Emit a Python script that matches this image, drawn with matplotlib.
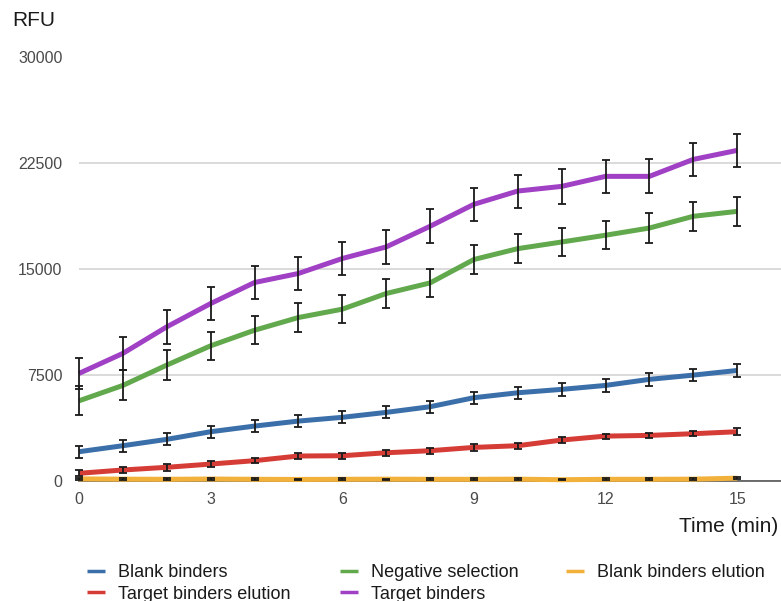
import matplotlib
matplotlib.use('Agg')
import matplotlib.pyplot as plt
import numpy as np

plt.rcParams['font.family'] = ['Liberation Sans', 'DejaVu Sans']

# time points (min)
time_min = np.arange(16)

# RFU readings per sample, with error bar half-widths
target_binders = [7620, 9040, 10920, 12570, 14060, 14700, 15760, 16580,
                  18040, 19600, 20540, 20870, 21580, 21580, 22780, 23420]
target_binders_err = [1100, 1170, 1200, 1200, 1170, 1200, 1200, 1230,
                      1200, 1170, 1170, 1240, 1150, 1210, 1180, 1180]

negative_selection = [5680, 6770, 8210, 9575, 10680, 11580, 12170, 13280,
                      14030, 15690, 16460, 16930, 17410, 17920, 18750, 19100]
negative_selection_err = [1020, 1060, 1050, 1000, 1000, 1000, 1000, 1000,
                          1000, 1000, 1010, 1010, 1000, 1040, 1030, 1010]

blank_binders = [2075, 2500, 2950, 3490, 3890, 4245, 4510, 4860,
                 5260, 5900, 6250, 6490, 6770, 7200, 7500, 7830]
blank_binders_err = [420, 420, 420, 430, 420, 420, 420, 420,
                     430, 430, 430, 440, 440, 440, 440, 440]

target_elution = [545, 780, 970, 1200, 1440, 1770, 1790, 2000,
                  2145, 2380, 2500, 2900, 3180, 3230, 3350, 3490]
target_elution_err = [220, 240, 230, 230, 200, 180, 220, 220,
                      200, 220, 220, 230, 180, 200, 180, 230]

blank_elution = [150, 130, 120, 140, 120, 110, 120, 130,
                 120, 120, 130, 90, 120, 120, 130, 200]
blank_elution_err = [90, 60, 60, 40, 60, 60, 60, 40,
                     60, 60, 60, 40, 60, 60, 60, 60]

series = [
    ('Blank binders', blank_binders, blank_binders_err, '#3b6fa9'),
    ('Target binders elution', target_elution, target_elution_err, '#d63c36'),
    ('Negative selection', negative_selection, negative_selection_err, '#62a84c'),
    ('Target binders', target_binders, target_binders_err, '#a040c4'),
    ('Blank binders elution', blank_elution, blank_elution_err, '#f2b13a'),
]

fig = plt.figure(figsize=(7.81, 6.01), dpi=100)
ax = fig.add_axes([79 / 781, 1 - 481 / 601, 1 - 79 / 781, (481 - 57.5) / 601])

handles = []
for label, vals, err, color in series:
    line, = ax.plot(time_min, vals, color=color, lw=3.6, label=label,
                    solid_capstyle='butt', zorder=3, clip_on=False)
    eb = ax.errorbar(time_min, vals, yerr=err, fmt='none', ecolor='#1a1a1a',
                     elinewidth=1.3, capsize=2.8, capthick=1.3, zorder=4)
    for art in eb.lines[1] + eb.lines[2]:
        art.set_clip_on(False)
    handles.append(line)

ax.set_xlim(0, 16)
ax.set_ylim(0, 30000)
ax.set_xticks([0, 3, 6, 9, 12, 15])
ax.set_yticks([0, 7500, 15000, 22500, 30000])
ax.yaxis.grid(True, color='#d4d4d4', lw=1.2)
ax.set_axisbelow(True)
for s in ['top', 'right', 'left']:
    ax.spines[s].set_visible(False)
ax.spines['bottom'].set_color('#555555')
ax.spines['bottom'].set_linewidth(1.2)
ax.spines['bottom'].set_zorder(1)
ax.tick_params(axis='both', length=0, labelsize=11.5, labelcolor='#4a4a4a')
ax.tick_params(axis='y', pad=12)
ax.tick_params(axis='x', pad=8)

fig.text(12 / 781, 1 - 11 / 601, 'RFU', fontsize=15, va='top', ha='left', color='#1a1a1a')
fig.text(778 / 781, 1 - 526 / 601, 'Time (min)', fontsize=15, va='center', ha='right',
         color='#1a1a1a')

# legend: three columns placed separately
col_x = [87, 340, 566]
col_items = [handles[0:2], handles[2:4], handles[4:5]]
for x, items in zip(col_x, col_items):
    leg = fig.legend(handles=items, loc='upper left', frameon=False,
                     bbox_to_anchor=(x / 781, 1 - 564 / 601), fontsize=13,
                     handlelength=1.0, handletextpad=0.7, labelspacing=0.25,
                     borderpad=0, borderaxespad=0, labelcolor='#1a1a1a')
    for h in leg.legend_handles:
        h.set_linewidth(2.5)

fig.savefig('out.png', dpi=100)
